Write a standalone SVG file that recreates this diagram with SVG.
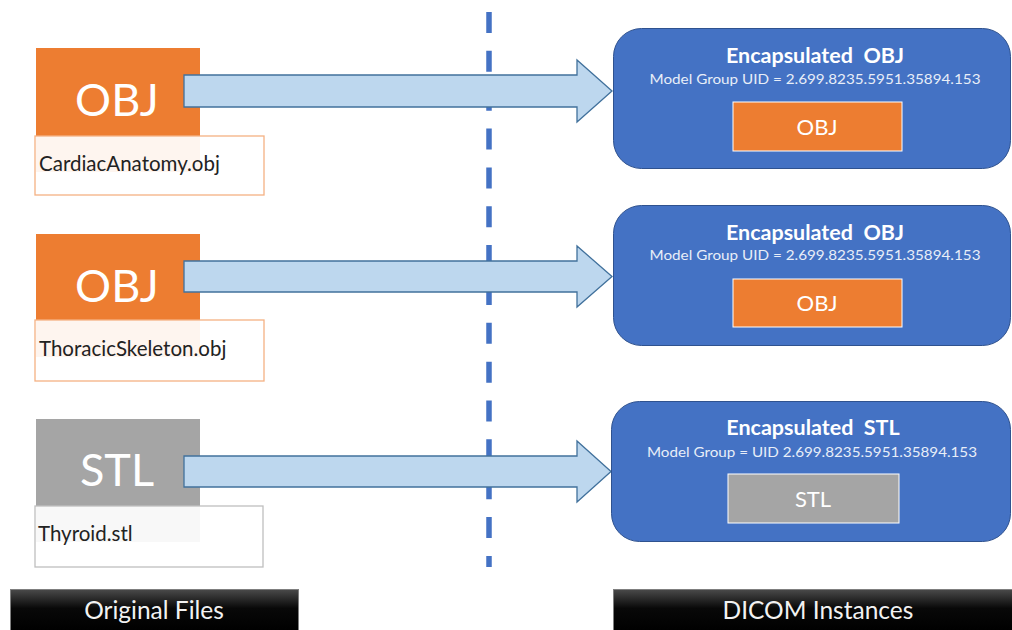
<svg xmlns="http://www.w3.org/2000/svg" width="1012" height="630" viewBox="0 0 1012 630">
  <style>
    text { font-family: Lato, "Open Sans", "Liberation Sans", sans-serif; fill: #ffffff; white-space: pre; }
    .big { font-size: 45px; text-anchor: middle; }
    .lbl { font-size: 20.5px; fill: #222222; }
    .title { font-size: 21.5px; font-weight: bold; text-anchor: middle; }
    .sub { font-size: 13.8px; text-anchor: middle; fill: #E8EEF8; }
    .inner { font-size: 22px; text-anchor: middle; }
    .bar { font-size: 24.5px; text-anchor: middle; fill: #F2F2F2; }
    .dicom { fill: #4472C4; stroke: #2F528F; stroke-width: 1; }
    .arrow { fill: #BDD7EE; stroke: #41719C; stroke-width: 1.3; }
    .lblbox { fill: #ffffff; fill-opacity: 0.92; stroke-width: 1.3; }
  </style>
  <defs>
    <linearGradient id="barGrad" x1="0" y1="0" x2="0" y2="1">
      <stop offset="0" stop-color="#4a4a4a"/>
      <stop offset="0.45" stop-color="#080808"/>
      <stop offset="1" stop-color="#000000"/>
    </linearGradient>
  </defs>
  <rect width="1012" height="630" fill="#ffffff"/>

  <g id="divider">
    <line x1="489" y1="12" x2="489" y2="567" stroke="#4472C4" stroke-width="5.5" stroke-dasharray="21 17.85"/>
  </g>

  <g id="file-obj-1">
    <rect x="36" y="48" width="164" height="124" fill="#ED7D31"/>
    <text class="big" x="117" y="116">OBJ</text>
    <rect class="lblbox" x="35" y="136" width="229" height="59" stroke="#F4B183"/>
    <text class="lbl" x="39" y="171">CardiacAnatomy.obj</text>
  </g>

  <g id="file-obj-2">
    <rect x="36" y="234" width="164" height="123" fill="#ED7D31"/>
    <text class="big" x="117" y="302">OBJ</text>
    <rect class="lblbox" x="35" y="320" width="229" height="61" stroke="#F4B183"/>
    <text class="lbl" x="39" y="356">ThoracicSkeleton.obj</text>
  </g>

  <g id="file-stl">
    <rect x="36" y="419" width="164" height="123" fill="#A5A5A5"/>
    <text class="big" x="117" y="486">STL</text>
    <rect class="lblbox" x="35" y="506" width="228" height="61" stroke="#BFBFBF"/>
    <text class="lbl" x="38" y="541">Thyroid.stl</text>
  </g>

  <g id="connectors">
    <polygon class="arrow" points="184,75 577,75 577,60 612,91 577,122 577,107 184,107"/>
    <polygon class="arrow" points="184,261 577,261 577,246 612,276.5 577,307 577,292 184,292"/>
    <polygon class="arrow" points="184,456 577,456 577,441 611,471.5 577,502 577,487 184,487"/>
  </g>

  <g id="dicom-obj-1">
    <rect class="dicom" x="613.5" y="28.5" width="397" height="140" rx="28" ry="28"/>
    <text class="title" x="815" y="63" xml:space="preserve">Encapsulated  OBJ</text>
    <text class="sub" x="815" y="84" textLength="331" lengthAdjust="spacingAndGlyphs">Model Group UID = 2.699.8235.5951.35894.153</text>
    <rect x="733" y="102" width="169" height="49" fill="#ED7D31" stroke="#ffffff" stroke-width="1"/>
    <text class="inner" x="817" y="135">OBJ</text>
  </g>

  <g id="dicom-obj-2">
    <rect class="dicom" x="613.5" y="205.5" width="397" height="140" rx="28" ry="28"/>
    <text class="title" x="815" y="240" xml:space="preserve">Encapsulated  OBJ</text>
    <text class="sub" x="815" y="260" textLength="331" lengthAdjust="spacingAndGlyphs">Model Group UID = 2.699.8235.5951.35894.153</text>
    <rect x="733" y="279" width="169" height="48" fill="#ED7D31" stroke="#ffffff" stroke-width="1"/>
    <text class="inner" x="817" y="311">OBJ</text>
  </g>

  <g id="dicom-stl">
    <rect class="dicom" x="611.5" y="401.5" width="399" height="140" rx="28" ry="28"/>
    <text class="title" x="813" y="435" xml:space="preserve">Encapsulated  STL</text>
    <text class="sub" x="812" y="457" textLength="330" lengthAdjust="spacingAndGlyphs">Model Group = UID 2.699.8235.5951.35894.153</text>
    <rect x="728" y="474" width="171" height="49" fill="#A5A5A5" stroke="#ffffff" stroke-width="1"/>
    <text class="inner" x="813" y="507">STL</text>
  </g>

  <g id="label-original">
    <rect x="10.5" y="589.5" width="288" height="42" fill="url(#barGrad)" stroke="#7f7f7f" stroke-width="1"/>
    <text class="bar" x="154" y="619">Original Files</text>
  </g>

  <g id="label-dicom">
    <rect x="613.5" y="589.5" width="400" height="42" fill="url(#barGrad)" stroke="#7f7f7f" stroke-width="1"/>
    <text class="bar" x="818" y="619">DICOM Instances</text>
  </g>
</svg>
